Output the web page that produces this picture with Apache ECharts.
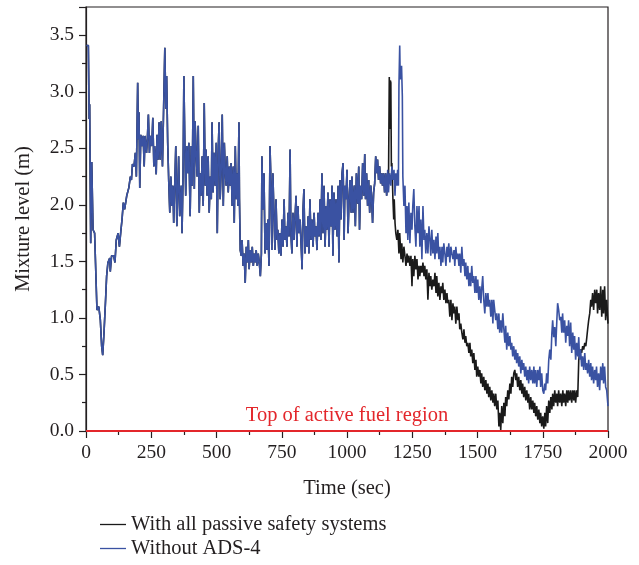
<!DOCTYPE html>
<html>
<head>
<meta charset="utf-8">
<script src="https://cdn.jsdelivr.net/npm/echarts@6/dist/echarts.min.js"></script>
<style>
  html, body { margin: 0; padding: 0; background: #fff; }
  #chart { width: 639px; height: 565px; }
</style>
</head>
<body>
<div id="chart"></div>
<script>
// ---------------- data (time in sec, mixture level in m) ----------------
// common part of both runs, the curves overlap until ~1150 s
var sharedLevel = [
  [1,3.41],[9,3.41],[12,2.76],[14,2.89],[18,1.66],[22,2.38],[27,1.78],[33,1.75],[42,1.07],[49,1.10],
  [55,0.98],[60,0.75],[64,0.67],[69,0.87],[75,1.16],[79,1.37],[84,1.49],[91,1.53],[93,1.41],[98,1.55],
  [106,1.55],[111,1.49],[116,1.69],[123,1.75],[128,1.63],[134,1.78],[138,1.87],[143,2.02],[148,1.96],[156,2.08],
  [164,2.15],[170,2.25],[174,2.22],[178,2.36],[184,2.34],[189,2.46],[193,2.25],[198,3.08],[201,2.58],[203,2.82],
  [206,2.15],[210,2.62],[214,2.52],[219,2.61],[223,2.34],[226,2.61],[232,2.46],[235,2.58],[239,2.80],[243,2.46],
  [247,2.61],[252,2.52],[256,2.77],[260,2.34],[263,2.52],[269,2.27],[272,2.62],[276,2.40],[280,2.73],[284,2.40],
  [288,2.74],[293,2.34],[298,2.93],[302,3.39],[306,2.85],[309,3.14],[313,2.55],[317,2.21],[321,1.93],[325,2.25],
  [329,1.99],[333,2.17],[336,1.84],[340,2.17],[344,2.52],[348,1.81],[351,2.08],[355,2.43],[359,1.90],[365,2.17],
  [368,1.75],[372,2.28],[375,3.14],[379,2.49],[382,2.08],[386,2.52],[390,2.28],[394,2.55],[399,1.90],[403,2.52],
  [407,2.17],[411,3.14],[415,2.14],[418,2.74],[422,2.46],[426,2.25],[430,2.70],[434,1.93],[437,2.28],[441,2.08],
  [445,2.43],[449,1.99],[453,2.90],[457,2.17],[460,2.49],[464,2.08],[468,2.43],[472,1.93],[476,2.25],[480,2.05],
  [483,2.73],[487,2.11],[491,2.46],[495,2.17],[499,2.55],[503,1.75],[507,2.52],[510,2.73],[514,2.05],[518,2.31],
  [522,2.80],[526,1.99],[530,2.55],[534,2.28],[537,2.17],[541,2.43],[545,2.11],[549,2.34],[553,2.17],[556,2.37],
  [560,1.99],[564,2.34],[568,1.84],[572,2.52],[576,2.05],[580,2.28],[582,1.99],[586,2.73],[588,2.05],[591,1.60],
  [595,1.55],[598,1.69],[602,1.46],[606,1.57],[610,1.31],[614,1.63],[618,1.49],[622,1.69],[625,1.43],[629,1.60],
  [633,1.49],[637,1.63],[641,1.46],[645,1.57],[649,1.49],[652,1.60],[656,1.46],[660,1.57],[664,1.49],[668,1.37],
  [672,1.57],[674,2.43],[678,1.96],[682,2.28],[686,1.57],[690,1.84],[693,1.60],[697,1.87],[701,1.46],[705,2.52],
  [709,2.17],[712,1.60],[716,2.28],[720,1.93],[724,1.60],[728,2.05],[732,1.69],[735,1.78],[739,1.57],[743,1.75],
  [747,1.55],[751,1.87],[755,1.63],[759,2.05],[762,1.69],[766,1.81],[770,1.63],[774,1.93],[778,1.72],[782,2.49],
  [785,1.75],[789,1.57],[793,1.93],[797,1.69],[801,1.90],[805,2.08],[808,1.63],[812,1.99],[816,1.75],[820,1.87],
  [824,1.66],[828,1.43],[831,1.93],[835,2.14],[839,1.57],[843,1.81],[847,1.63],[851,1.90],[854,1.57],[858,2.05],
  [862,1.69],[866,1.87],[870,1.63],[874,1.93],[877,1.72],[881,1.81],[885,1.60],[889,1.93],[893,1.72],[897,2.05],
  [900,1.69],[904,2.28],[908,1.75],[912,2.17],[916,1.63],[920,1.99],[923,1.78],[927,2.11],[931,1.63],[935,2.05],
  [939,1.81],[943,2.17],[946,1.55],[950,2.11],[954,1.78],[958,2.05],[962,1.72],[966,2.17],[969,1.49],[973,2.22],
  [977,1.87],[981,2.28],[985,2.37],[989,1.69],[992,2.17],[996,2.05],[1000,2.31],[1004,1.75],[1008,2.05],[1012,2.22],
  [1016,1.93],[1019,2.25],[1023,1.93],[1028,2.17],[1032,1.81],[1036,2.28],[1041,2.01],[1045,2.34],[1048,1.78],[1052,2.17],
  [1056,2.05],[1060,2.37],[1064,2.08],[1068,2.45],[1071,2.05],[1075,2.28],[1079,1.99],[1083,2.22],[1087,1.93],[1091,2.17],
  [1094,2.08],[1098,1.84],[1102,2.11],[1106,2.19],[1110,2.43],[1114,2.28],[1117,2.40],[1121,2.22],[1125,2.34],[1129,2.19],
  [1133,2.28],[1136,2.17],[1140,2.28],[1144,2.11],[1148,2.28],[1152,2.08]
];

// "Without ADS-4" after the split
var noAdsTail = [
  [1156,2.31],[1159,2.11],[1163,2.28],[1168,2.17],[1172,2.34],[1176,2.22],[1180,2.31],[1184,2.08],[1187,2.28],[1191,2.17],
  [1194,2.31],[1197,2.17],[1199,3.05],[1202,3.41],[1204,3.11],[1207,3.17],[1209,3.23],[1212,2.96],[1214,2.25],[1218,1.99],
  [1222,2.17],[1226,1.75],[1230,1.99],[1233,1.69],[1237,2.02],[1241,1.66],[1245,1.93],[1249,1.78],[1252,1.99],[1256,2.14],
  [1260,1.81],[1264,1.63],[1268,1.99],[1272,1.75],[1276,1.99],[1279,1.63],[1283,1.87],[1287,1.52],[1291,1.99],[1295,1.69],
  [1298,1.78],[1302,1.57],[1306,1.75],[1310,1.57],[1314,1.81],[1318,1.69],[1321,1.55],[1325,1.78],[1329,1.57],[1333,1.69],
  [1337,1.52],[1341,1.72],[1344,1.57],[1348,1.75],[1352,1.52],[1356,1.63],[1360,1.46],[1364,1.63],[1367,1.49],[1371,1.66],
  [1375,1.57],[1379,1.46],[1383,1.63],[1386,1.54],[1390,1.66],[1394,1.49],[1398,1.63],[1402,1.57],[1406,1.52],[1410,1.60],
  [1413,1.46],[1417,1.63],[1421,1.52],[1425,1.57],[1429,1.46],[1432,1.57],[1436,1.40],[1440,1.63],[1444,1.46],[1448,1.52],
  [1452,1.37],[1455,1.49],[1459,1.34],[1463,1.46],[1467,1.28],[1471,1.40],[1474,1.28],[1478,1.46],[1482,1.31],[1486,1.37],
  [1490,1.22],[1494,1.37],[1497,1.22],[1501,1.34],[1505,1.16],[1509,1.28],[1513,1.13],[1516,1.25],[1520,1.37],[1524,1.16],
  [1528,1.04],[1532,1.22],[1536,1.10],[1540,1.22],[1543,1.10],[1547,1.16],[1551,1.01],[1555,1.16],[1559,0.95],[1562,1.16],
  [1566,1.07],[1570,0.98],[1574,1.04],[1578,0.90],[1582,1.04],[1585,0.87],[1589,0.98],[1593,0.87],[1597,1.04],[1601,0.90],
  [1605,0.78],[1608,0.93],[1612,0.72],[1616,0.87],[1620,0.75],[1624,0.84],[1628,0.72],[1631,0.78],[1635,0.66],[1639,0.75],
  [1643,0.63],[1647,0.72],[1650,0.60],[1654,0.69],[1658,0.57],[1662,0.66],[1666,0.51],[1670,0.63],[1673,0.54],[1677,0.60],
  [1681,0.48],[1685,0.57],[1689,0.45],[1693,0.54],[1696,0.42],[1700,0.57],[1704,0.45],[1708,0.54],[1712,0.42],[1716,0.57],
  [1719,0.42],[1723,0.54],[1727,0.39],[1731,0.54],[1735,0.45],[1739,0.57],[1742,0.39],[1746,0.51],[1750,0.36],[1754,0.33],
  [1758,0.42],[1761,0.36],[1765,0.51],[1769,0.42],[1773,0.63],[1777,0.72],[1781,0.63],[1785,0.87],[1788,0.98],[1792,0.83],
  [1796,0.92],[1800,0.75],[1804,0.98],[1807,1.13],[1811,1.07],[1815,0.98],[1819,1.01],[1823,0.87],[1826,1.04],[1830,0.87],
  [1834,0.98],[1838,0.78],[1842,0.93],[1846,0.84],[1849,0.98],[1853,0.75],[1857,0.96],[1861,0.69],[1865,0.87],[1869,0.72],
  [1872,0.84],[1876,0.63],[1880,0.78],[1884,0.66],[1888,0.83],[1891,0.63],[1895,0.72],[1899,0.57],[1903,0.66],[1907,0.54],
  [1911,0.69],[1915,0.54],[1918,0.60],[1922,0.51],[1926,0.63],[1930,0.48],[1934,0.60],[1937,0.45],[1941,0.57],[1945,0.42],
  [1949,0.54],[1953,0.45],[1956,0.57],[1960,0.39],[1964,0.51],[1968,0.36],[1972,0.57],[1976,0.45],[1980,0.60],[1983,0.42],
  [1987,0.57],[1991,0.39],[1995,0.36],[2000,0.22]
];

// "With all passive safety systems" after the split
var passiveTail = [
  [1156,2.28],[1159,2.20],[1162,3.13],[1164,2.67],[1166,3.10],[1168,3.08],[1170,2.34],[1172,2.37],[1176,2.05],[1179,1.87],
  [1181,2.05],[1184,1.84],[1187,1.75],[1191,1.69],[1195,1.78],[1199,1.57],[1202,1.75],[1207,1.52],[1210,1.66],[1214,1.49],
  [1218,1.63],[1222,1.55],[1226,1.46],[1230,1.57],[1233,1.49],[1237,1.55],[1241,1.46],[1245,1.55],[1249,1.28],[1252,1.52],
  [1256,1.37],[1260,1.55],[1264,1.43],[1268,1.52],[1272,1.34],[1276,1.46],[1279,1.37],[1283,1.46],[1287,1.40],[1291,1.49],
  [1295,1.37],[1298,1.46],[1302,1.34],[1306,1.43],[1310,1.16],[1314,1.40],[1318,1.28],[1321,1.37],[1325,1.25],[1329,1.34],
  [1333,1.28],[1337,1.40],[1341,1.22],[1344,1.37],[1348,1.19],[1352,1.31],[1356,1.16],[1360,1.28],[1364,1.22],[1367,1.31],
  [1371,1.16],[1375,1.25],[1379,1.13],[1383,1.22],[1386,1.13],[1390,1.16],[1394,1.01],[1398,1.16],[1402,0.98],[1406,1.13],
  [1409,1.04],[1413,1.10],[1417,0.95],[1421,1.10],[1425,0.98],[1429,1.04],[1432,0.90],[1436,0.95],[1440,0.87],[1444,0.81],
  [1448,0.90],[1452,0.78],[1455,0.84],[1459,0.75],[1463,0.78],[1467,0.69],[1471,0.78],[1474,0.66],[1478,0.72],[1482,0.60],
  [1486,0.69],[1490,0.54],[1494,0.63],[1497,0.48],[1501,0.57],[1505,0.48],[1509,0.54],[1513,0.42],[1516,0.51],[1520,0.39],
  [1524,0.48],[1528,0.36],[1532,0.45],[1536,0.33],[1540,0.42],[1543,0.30],[1547,0.39],[1551,0.27],[1555,0.36],[1559,0.25],
  [1562,0.33],[1566,0.22],[1570,0.33],[1574,0.19],[1578,0.27],[1582,0.04],[1585,0.16],[1589,0.01],[1593,0.22],[1597,0.07],
  [1601,0.25],[1605,0.13],[1608,0.30],[1612,0.22],[1616,0.36],[1620,0.28],[1624,0.42],[1628,0.33],[1631,0.48],[1635,0.39],
  [1639,0.51],[1643,0.54],[1647,0.45],[1650,0.51],[1654,0.39],[1658,0.48],[1662,0.36],[1666,0.45],[1670,0.33],[1673,0.42],
  [1677,0.30],[1681,0.39],[1685,0.27],[1689,0.36],[1693,0.25],[1696,0.33],[1700,0.19],[1704,0.30],[1708,0.19],[1712,0.27],
  [1716,0.16],[1719,0.25],[1723,0.13],[1727,0.22],[1731,0.10],[1735,0.19],[1739,0.07],[1742,0.16],[1746,0.04],[1750,0.13],
  [1754,0.02],[1758,0.16],[1761,0.04],[1765,0.22],[1769,0.07],[1773,0.27],[1777,0.16],[1781,0.30],[1785,0.19],[1788,0.33],
  [1792,0.22],[1796,0.36],[1800,0.25],[1804,0.33],[1807,0.22],[1811,0.36],[1815,0.25],[1819,0.33],[1823,0.22],[1827,0.36],
  [1830,0.25],[1834,0.33],[1838,0.22],[1842,0.36],[1846,0.25],[1849,0.36],[1853,0.27],[1857,0.36],[1861,0.25],[1865,0.36],
  [1869,0.27],[1872,0.36],[1876,0.25],[1880,0.36],[1884,0.30],[1888,0.63],[1891,0.69],[1895,0.72],[1899,0.69],[1903,0.75],
  [1907,0.72],[1911,0.78],[1915,0.75],[1918,0.81],[1922,0.90],[1926,0.98],[1930,1.04],[1934,1.16],[1937,1.10],[1941,1.22],
  [1945,1.07],[1949,1.25],[1953,1.13],[1957,1.25],[1960,1.04],[1964,1.22],[1968,1.07],[1972,1.28],[1976,1.01],[1980,1.25],
  [1983,1.04],[1987,1.28],[1991,0.98],[1995,1.16],[2000,0.95]
];

var seriesNames = ['With all passive safety systems', 'Without ADS-4'];
var fuelTopLevel = 0;
var fuelTopText = 'Top of active fuel region';

// ---------------- chart ----------------
var FONT = '"Liberation Serif", "DejaVu Serif", serif';
var INK = '#231f20';
var BLACK_LINE = '#1a1a1a';
var BLUE_LINE = '#3a52a2';
var RED_LINE = '#e3262b';

var chart = echarts.init(document.getElementById('chart'), null, { renderer: 'canvas' });

var option = {
  animation: false,
  backgroundColor: '#ffffff',
  textStyle: { fontFamily: FONT, color: INK },
  grid: {
    left: 86, right: 31, top: 7, bottom: 134,
    show: true, borderColor: INK, borderWidth: 1.2, backgroundColor: 'transparent'
  },
  legend: {
    orient: 'vertical',
    left: 100, top: 514,
    height: 60,
    padding: 0,
    icon: 'rect',
    itemWidth: 26, itemHeight: 1.3, itemGap: 3,
    data: seriesNames,
    textStyle: { fontFamily: FONT, fontSize: 20.5, color: INK, lineHeight: 21 }
  },
  xAxis: {
    type: 'value',
    min: 0, max: 2000, interval: 250,
    name: 'Time (sec)', nameLocation: 'middle', nameGap: 47,
    nameTextStyle: { fontFamily: FONT, fontSize: 20.5, color: INK },
    axisLine: { lineStyle: { color: INK, width: 1.2 } },
    axisTick: { length: 7, lineStyle: { color: INK, width: 1.2 } },
    minorTick: { show: true, splitNumber: 2, length: 4, lineStyle: { color: INK, width: 1.2 } },
    axisLabel: {
      fontFamily: FONT, fontSize: 19.5, color: INK, margin: 12,
      formatter: function (v) { return String(v); }
    },
    splitLine: { show: false }
  },
  yAxis: {
    type: 'value',
    min: 0, max: 3.75, interval: 0.5,
    name: 'Mixture level (m)', nameLocation: 'middle', nameGap: 52,
    nameTextStyle: { fontFamily: FONT, fontSize: 20.5, color: INK },
    axisLine: { lineStyle: { color: INK, width: 1.2 } },
    axisTick: { length: 7, lineStyle: { color: INK, width: 1.2 } },
    minorTick: { show: true, splitNumber: 2, length: 4, lineStyle: { color: INK, width: 1.2 } },
    axisLabel: {
      fontFamily: FONT, fontSize: 19.5, color: INK, margin: 12,
      formatter: function (v) { return Math.abs(v * 2 - Math.round(v * 2)) < 1e-6 ? v.toFixed(1) : ''; }
    },
    splitLine: { show: false }
  },
  series: [
    {
      name: seriesNames[0],
      type: 'line',
      data: sharedLevel.concat(passiveTail),
      showSymbol: false, symbol: 'none',
      lineStyle: { color: BLACK_LINE, width: 1.6 },
      itemStyle: { color: BLACK_LINE }
    },
    {
      name: seriesNames[1],
      type: 'line',
      data: sharedLevel.concat(noAdsTail),
      showSymbol: false, symbol: 'none',
      lineStyle: { color: BLUE_LINE, width: 1.6 },
      itemStyle: { color: BLUE_LINE }
    },
    {
      name: 'fuel',
      type: 'line',
      data: [],
      z: 5,
      markLine: {
        silent: true,
        symbol: 'none',
        lineStyle: { color: RED_LINE, width: 2, type: 'solid' },
        label: {
          show: true,
          position: 'insideMiddleTop',
          formatter: fuelTopText,
          fontFamily: FONT, fontSize: 20.5, color: RED_LINE,
          distance: 5
        },
        data: [{ yAxis: fuelTopLevel }]
      }
    }
  ]
};

chart.setOption(option);
</script>
</body>
</html>
